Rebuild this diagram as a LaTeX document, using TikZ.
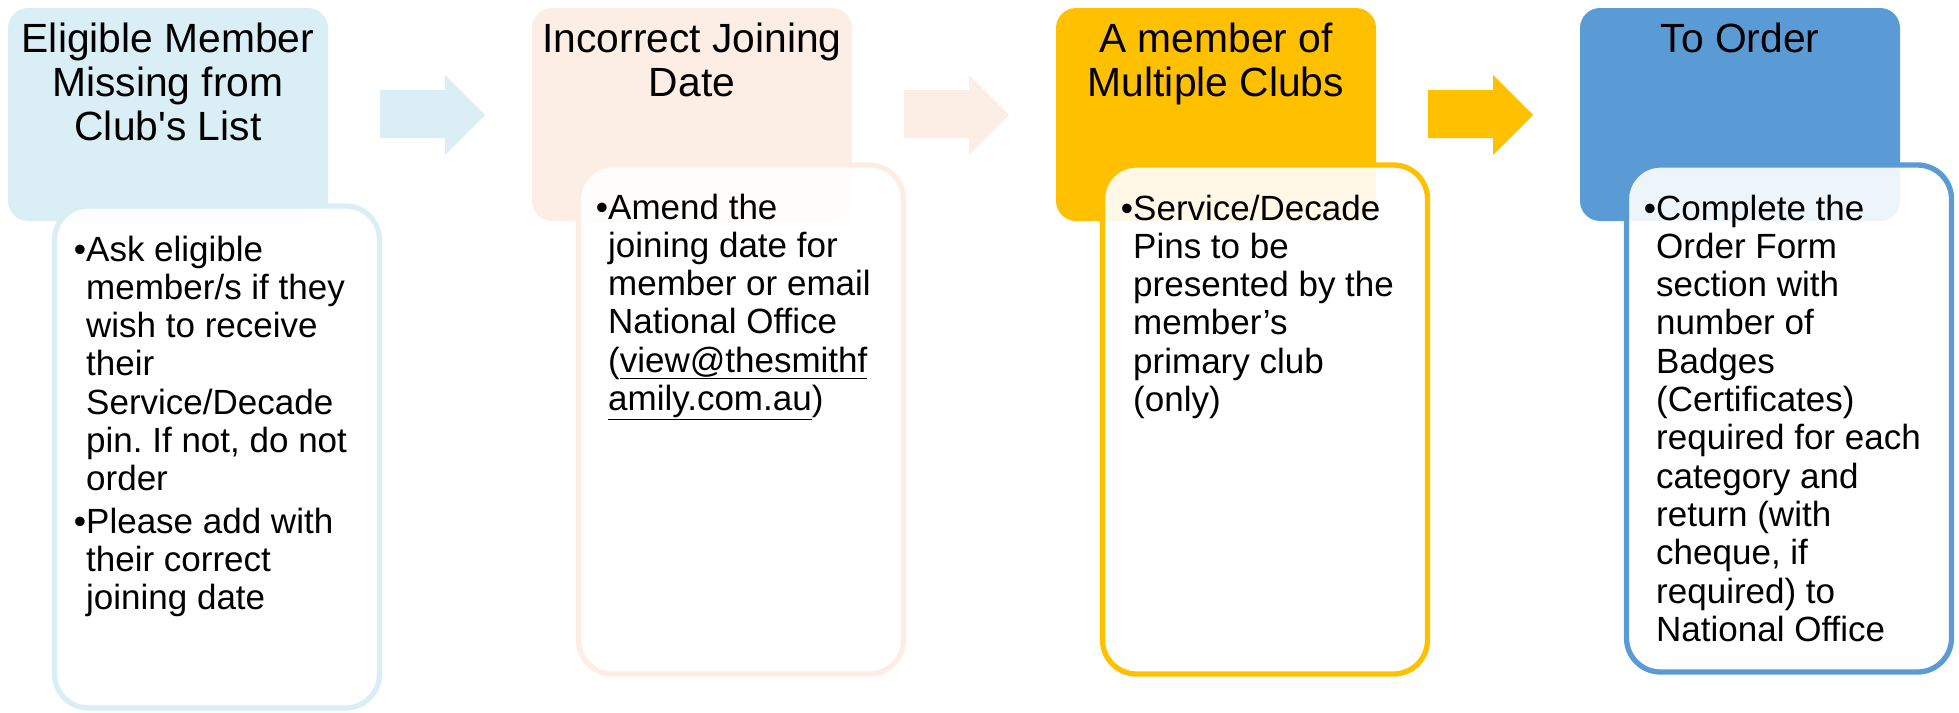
\documentclass[tikz,border=0pt]{standalone}
\usepackage{fontspec}
\setmainfont{Liberation Sans}[Ligatures=TeXOff]
\frenchspacing
\definecolor{cA}{HTML}{DAEEF6}
\definecolor{cB}{HTML}{FCEEE5}
\definecolor{cC}{HTML}{FFC000}
\definecolor{cD}{HTML}{5B9BD5}
\tikzset{
  hdr/.style={rounded corners=20pt, minimum width=320pt, minimum height=213pt, inner sep=0pt, draw=none},
  detail/.style={rounded corners=34pt, fill=white, fill opacity=0.9, line width=5.3pt, minimum width=325pt, inner sep=0pt},
  htext/.style={anchor=base, inner sep=0pt, font=\fontsize{40.8}{44.3}\selectfont},
  btext/.style={anchor=base west, inner sep=0pt, font=\fontsize{35}{38.3}\selectfont},
}
\newcommand{\hd}[1]{\parbox[t]{330pt}{\centering #1}}
\newcommand{\bd}[1]{\parbox[t]{400pt}{\raggedright\frenchspacing #1}}
\newcommand{\bul}{\makebox[0pt][r]{•}}
\begin{document}
\begin{tikzpicture}[x=1pt,y=-1pt]
\useasboundingbox (0,0) rectangle (1959,712);
% headers
\node[hdr, fill=cA] (h1) at (168,114.5) {};
\node[hdr, fill=cB] (h2) at (692,114.5) {};
\node[hdr, fill=cC] (h3) at (1216,114.5) {};
\node[hdr, fill=cD] (h4) at (1740,114.5) {};
% block arrows
\fill[cA] (380,90) -- (445,90) -- (445,75) -- (485,115) -- (445,155) -- (445,138) -- (380,138) -- cycle;
\fill[cB] (904,90) -- (969,90) -- (969,75) -- (1009,115) -- (969,155) -- (969,138) -- (904,138) -- cycle;
\fill[cC] (1428,90) -- (1493,90) -- (1493,75) -- (1533,115) -- (1493,155) -- (1493,138) -- (1428,138) -- cycle;
% detail boxes
\node[detail, draw=cA, minimum height=502pt] (d1) at (217,457) {};
\node[detail, draw=cB, minimum height=509pt] (d2) at (741,419.5) {};
\node[detail, draw=cC, minimum height=509pt] (d3) at (1265,419.5) {};
\node[detail, draw=cD, minimum height=507pt] (d4) at (1789,418.5) {};
% header texts
\node[htext] (h1t) at (168,52) {\hd{Eligible Member\\Missing from\\Club's List}};
\node[htext] (h2t) at (692,52) {\hd{Incorrect Joining\\Date}};
\node[htext] (h3t) at (1216,52) {\hd{A member of\\Multiple Clubs}};
\node[htext] (h4t) at (1740,52) {\hd{To Order}};
% body texts
\node[btext] (b1t) at (86,261) {\bd{\bul Ask eligible\\member/s if they\\wish to receive\\their\\Service/Decade\\pin. If not, do not\\order\\[4pt]\bul Please add with\\their correct\\joining date}};
\node[btext] (b2t) at (608,219) {\bd{\bul Amend the\\joining date for\\member or email\\National Office\\(\underline{view@thesmithf}\\\underline{amily.com.au})}};
\node[btext] (b3t) at (1133,220) {\bd{\bul Service/Decade\\Pins to be\\presented by the\\member’s\\primary club\\(only)}};
\node[btext] (b4t) at (1656,220) {\bd{\bul Complete the\\Order Form\\section with\\number of\\Badges\\(Certificates)\\required for each\\category and\\return (with\\cheque, if\\required) to\\National Office}};
\end{tikzpicture}
\end{document}
